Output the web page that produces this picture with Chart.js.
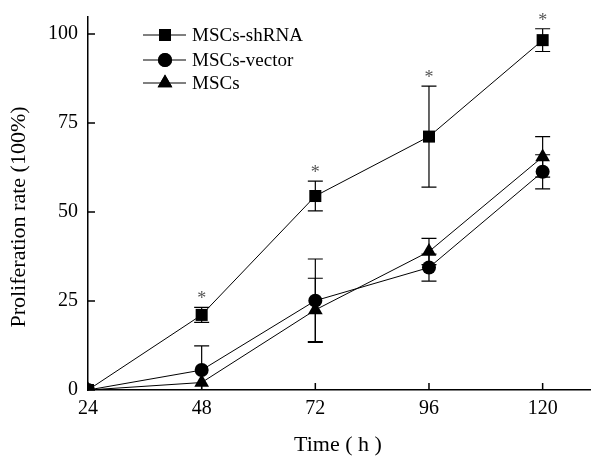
<!DOCTYPE html>
<html>
<head>
<meta charset="utf-8">
<script src="https://cdn.jsdelivr.net/npm/chart.js@4/dist/chart.umd.min.js"></script>
<style>
  html, body { margin: 0; padding: 0; background: #fff; }
  #wrap { width: 600px; height: 463px; }
</style>
</head>
<body>
<div id="wrap"><canvas id="grafProliferacion"></canvas></div>
<script>
// valores
const horas = [24, 48, 72, 96, 120]
const shRNA = [0, 21.1, 54.5, 71.2, 98.3]
const shRNAErr = [0, 2.1, 4.2, 14.2, 3.2]
const vector = [0, 5.6, 25.1, 34.4, 61.3]
const vectorErr = [0, 6.8, 11.7, 3.8, 4.8]
const mscs = [0, 2.1, 22.5, 38.9, 65.5]
const mscsErr = [0, 0, 8.9, 3.7, 5.7]
const significativo = [false, true, true, true, true]
const ticksX = [24, 48, 72, 96, 120]
const ticksY = [0, 25, 50, 75, 100]

const serif = "'Liberation Serif', 'Times New Roman', serif"

function puntos(ys) {
    return horas.map((h, i) => ({ x: h, y: ys[i] }))
}

let series = [
    { label: 'MSCs-shRNA', data: puntos(shRNA), err: shRNAErr, pointStyle: 'rect', pointRadius: 8.5 },
    { label: 'MSCs-vector', data: puntos(vector), err: vectorErr, pointStyle: 'circle', pointRadius: 7 },
    { label: 'MSCs', data: puntos(mscs), err: mscsErr, pointStyle: 'triangle', pointRadius: 8.5 },
]

const extras = {
    id: 'extras',
    beforeDatasetsDraw(chart) {
        const ctx = chart.ctx
        const x = chart.scales.x, y = chart.scales.y
        const area = chart.chartArea
        ctx.save()
        ctx.beginPath()
        ctx.rect(area.left, area.top - 20, area.right - area.left, area.bottom - area.top + 20)
        ctx.clip()
        ctx.strokeStyle = '#000'
        ctx.lineWidth = 1.2
        chart.data.datasets.forEach(ds => {
            ds.data.forEach((p, i) => {
                const e = ds.err[i]
                if (!e) return
                const px = x.getPixelForValue(p.x)
                const top = y.getPixelForValue(p.y + e)
                const bot = y.getPixelForValue(p.y - e)
                ctx.beginPath()
                ctx.moveTo(px, top); ctx.lineTo(px, bot)
                ctx.moveTo(px - 7.5, top); ctx.lineTo(px + 7.5, top)
                ctx.moveTo(px - 7.5, bot); ctx.lineTo(px + 7.5, bot)
                ctx.stroke()
            })
        })
        ctx.restore()
    },
    afterDraw(chart) {
        const ctx = chart.ctx
        const x = chart.scales.x, y = chart.scales.y
        const area = chart.chartArea
        ctx.save()
        ctx.strokeStyle = '#000'
        ctx.lineWidth = 1.5
        // marcas hacia adentro
        ctx.beginPath()
        ticksY.forEach(v => {
            const py = y.getPixelForValue(v)
            ctx.moveTo(area.left, py); ctx.lineTo(area.left + 7, py)
        })
        ticksX.forEach(v => {
            const px = x.getPixelForValue(v)
            ctx.moveTo(px, area.bottom); ctx.lineTo(px, area.bottom - 7)
        })
        ctx.stroke()

        // asteriscos
        ctx.fillStyle = '#555'
        ctx.font = '18px ' + serif
        ctx.textAlign = 'center'
        ctx.textBaseline = 'alphabetic'
        shRNA.forEach((v, i) => {
            if (!significativo[i]) return
            const px = x.getPixelForValue(horas[i])
            const py = y.getPixelForValue(v + shRNAErr[i])
            ctx.fillText('*', px, py - 3)
        })

        // titulos
        ctx.fillStyle = '#000'
        ctx.font = '22px ' + serif
        ctx.textBaseline = 'middle'
        ctx.fillText('Time ( h )', 338, 445)
        ctx.save()
        ctx.translate(19, 217)
        ctx.rotate(-Math.PI / 2)
        ctx.fillText('Proliferation rate (100%)', 0, 0)
        ctx.restore()

        // leyenda
        ctx.font = '19px ' + serif
        ctx.textAlign = 'left'
        const filas = [35, 60, 83]
        chart.data.datasets.forEach((ds, i) => {
            const fy = filas[i]
            ctx.lineWidth = 1
            ctx.beginPath()
            ctx.moveTo(143, fy); ctx.lineTo(186, fy)
            ctx.stroke()
            Chart.helpers.drawPoint(ctx, {
                pointStyle: ds.pointStyle, radius: ds.pointRadius, rotation: 0, borderWidth: 0
            }, 165, fy)
            ctx.fillStyle = '#000'
            ctx.fill()
            ctx.fillText(ds.label, 192, fy + 1)
        })
        ctx.restore()
    }
}

let grafProliferacion = new Chart(document.getElementById('grafProliferacion'), {
    type: 'line',
    data: {
        datasets: series.map(s => ({
            label: s.label,
            data: s.data,
            err: s.err,
            pointStyle: s.pointStyle,
            pointRadius: s.pointRadius,
            pointHoverRadius: s.pointRadius,
            borderColor: '#000',
            borderWidth: 1,
            pointBackgroundColor: '#000',
            pointBorderColor: '#000',
            pointBorderWidth: 0,
            tension: 0,
            clip: 0,
        }))
    },
    options: {
        responsive: true,
        maintainAspectRatio: false,
        animation: false,
        events: [],
        layout: { padding: { top: 17, right: 10, left: 0, bottom: 0 } },
        plugins: {
            legend: { display: false },
            tooltip: { enabled: false },
        },
        scales: {
            x: {
                type: 'linear',
                min: 24,
                max: 130,
                afterBuildTicks: s => { s.ticks = ticksX.map(v => ({ value: v })) },
                afterFit: s => { s.height = 73; s.paddingLeft = 0; s.paddingRight = 0 },
                grid: { display: false, drawTicks: false },
                border: { display: true, color: '#000', width: 1.5 },
                ticks: { color: '#000', padding: 7, font: { family: serif, size: 20 }, maxRotation: 0 },
            },
            y: {
                type: 'linear',
                min: 0,
                max: 104.8,
                afterBuildTicks: s => { s.ticks = ticksY.map(v => ({ value: v })) },
                afterFit: s => { s.width = 88; s.paddingTop = 0; s.paddingBottom = 0 },
                grid: { display: false, drawTicks: false },
                border: { display: true, color: '#000', width: 1.5 },
                ticks: { color: '#000', padding: 10, font: { family: serif, size: 20 } },
            },
        },
    },
    plugins: [extras],
})
</script>
</body>
</html>
